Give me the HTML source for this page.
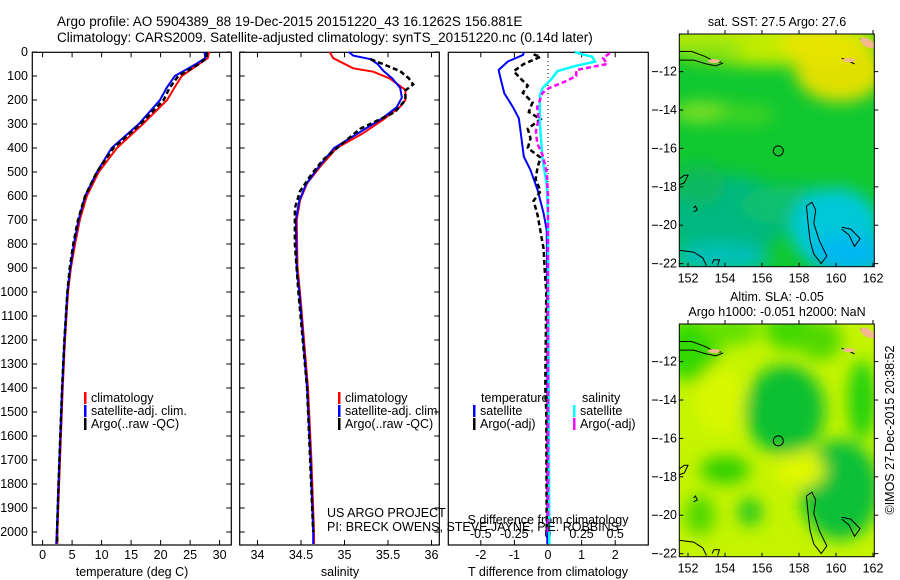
<!DOCTYPE html>
<html><head><meta charset="utf-8"><style>
body{margin:0;background:#fff}
svg{display:block;font-family:"Liberation Sans",sans-serif}
text{font-size:12.5px;fill:#000}
</style></head><body>
<svg id="s" width="900" height="580" viewBox="0 0 900 580">
<rect width="900" height="580" fill="#fff"/>
<text x="57" y="26" style="font-size:13.5px">Argo profile: AO 5904389_88 19-Dec-2015 20151220_43 16.1262S 156.881E</text>
<text x="57" y="42" style="font-size:13.5px">Climatology: CARS2009. Satellite-adjusted climatology: synTS_20151220.nc (0.14d later)</text>
<g id="g"></g>
</svg>
<script>
// ---- data ----
const tDepth=[0,25,50,100,150,200,300,400,500,600,700,800,900,1000,1200,1400,1600,1800,2000,2050];
const tClim=[28.2,28.0,26.5,23.6,22.3,21.1,17.0,12.6,9.5,7.5,6.3,5.5,4.8,4.3,3.8,3.4,3.1,2.8,2.5,2.5];
const tSat=[27.4,27.6,26.0,22.4,21.0,19.9,16.3,11.7,9.2,7.2,6.1,5.3,4.7,4.2,3.7,3.3,3.0,2.7,2.4,2.3];
const tArgo=[27.8,27.8,26.5,23.0,21.5,20.5,16.6,12.0,9.2,7.2,6.0,5.2,4.6,4.2,3.7,3.3,3.0,2.7,2.45,2.45];
const sClimDepth=[0,26,68,82,110,158,200,228,283,339,400,478,547,617,700,895,1005,1400,1700,2000,2050];
const sClim=[34.83,34.87,35.10,35.33,35.52,35.70,35.70,35.64,35.44,35.21,34.91,34.72,34.57,34.49,34.45,34.46,34.49,34.58,34.62,34.65,34.65];
const sSatDepth=[0,15,30,50,80,110,150,190,230,280,340,400,480,550,620,700,900,1000,1400,1700,2000,2050];
const sSat=[35.05,35.1,35.3,35.38,35.45,35.55,35.64,35.66,35.6,35.42,35.15,34.88,34.70,34.56,34.48,34.44,34.45,34.48,34.57,34.61,34.64,34.64];
const sArgoDepth=[30,50,80,110,135,160,200,250,280,320,380,450,520,580,650,800,1000,1400,2000];
const sArgo=[35.3,35.44,35.64,35.74,35.79,35.70,35.70,35.58,35.41,35.18,34.98,34.75,34.60,34.49,34.43,34.43,34.47,34.57,34.64];
const dtSatDepth=[0,12,40,75,117,172,228,276,325,436,492,575,672,742,880,1200,2050];
const dtSat=[-0.72,-0.74,-1.2,-1.47,-1.4,-1.3,-1.05,-0.87,-0.82,-0.72,-0.52,-0.31,-0.13,-0.04,-0.03,-0.02,-0.02];
const dtArgoDepth=[10,20,50,80,110,140,170,210,250,280,320,360,400,440,480,530,580,620,680,750,820,900,1000,1400,1500,2000];
const dtArgo=[-0.43,-0.22,-0.72,-1.02,-0.82,-0.6,-0.75,-0.46,-0.57,-0.22,-0.6,-0.52,-0.6,-0.22,-0.31,-0.37,-0.22,-0.43,-0.31,-0.22,-0.13,-0.1,-0.05,-0.08,-0.05,-0.04];
const dsSatDepth=[0,10,20,40,60,80,110,150,180,300,450,550,700,2050];
const dsSat=[0.2,0.26,0.33,0.35,0.19,0.07,0.03,-0.04,-0.06,-0.06,-0.04,-0.01,0.0,0.01];
const dsArgoDepth=[5,25,50,75,100,120,150,170,230,280,330,380,430,500,600,2000];
const dsArgo=[0.46,0.41,0.44,0.21,0.21,0.14,0.01,-0.04,-0.08,-0.07,-0.09,-0.08,-0.04,-0.01,0.0,0.0];
const depthTicks=[0,100,200,300,400,500,600,700,800,900,1000,1100,1200,1300,1400,1500,1600,1700,1800,1900,2000];
const tTicks=[0,5,10,15,20,25,30];
const sTicks=[34,34.5,35,35.5,36];
const dtTicks=[-2,-1,0,1,2];
const dsTicks=[-0.5,-0.25,0,0.25,0.5];
const latTicks=[-12,-14,-16,-18,-20,-22];
const lonTicks=[152,154,156,158,160,162];

// ---- scales ----
const Y=d=>52+d*0.24;
const XT=t=>42.6+t*5.9;
const XS=s=>257.5+(s-34)*87;
const XDT=v=>548+v*33.6;
const XDS=v=>548+v*134.4;
const NS='http://www.w3.org/2000/svg';
const G=document.getElementById('g');
function mk(tag,at,parent){const e=document.createElementNS(NS,tag);for(const k in at)e.setAttribute(k,at[k]);(parent||G).appendChild(e);return e;}
function txt(x,y,s,anchor,size){const e=mk('text',{x:x,y:y,'text-anchor':anchor||'start'});if(size)e.style.fontSize=size+'px';e.textContent=s;return e;}
function line(xs,ds,fx,color,w,dash,name){
  const p=xs.map((v,i)=>fx(v).toFixed(1)+','+Y(ds[i]).toFixed(1)).join(' ');
  const e=mk('polyline',{points:p,fill:'none',stroke:color,'stroke-width':w});
  if(dash)e.setAttribute('stroke-dasharray',dash);
  
  
}
const B=545;
const panels=[[32.3,231.3,'temperature-panel'],[239.7,439.3,'salinity-panel'],[448.3,648.3,'difference-panel']];
panels.forEach(p=>{const r=mk('rect',{x:p[0],y:52.3,width:p[1]-p[0],height:B-52.3,fill:'none',stroke:'#000','stroke-width':1.2});

});
depthTicks.forEach(d=>{
  const t=txt(28,Y(d)+4,String(d),'end');
  
  
  [[32.3,37],[231.3,226.3],[239.7,244.7],[439.3,434.3]].forEach(a=>mk('line',{x1:a[0],x2:a[1],y1:Y(d),y2:Y(d),stroke:'#000'}));
});
function xticks(ticks,fx,l,r){ticks.forEach(v=>{const x=fx(v);if(x<l||x>r)return;mk('line',{x1:x,x2:x,y1:B,y2:B-5,stroke:'#000'});mk('line',{x1:x,x2:x,y1:52.3,y2:57.3,stroke:'#000'});
 const t=txt(x,559,String(v),'middle');
 
 });}
xticks(tTicks,XT,32,232);xticks(sTicks,XS,239,440);xticks(dtTicks,XDT,448,649);
dsTicks.forEach(v=>{const t=txt(XDS(v),538,String(v),'middle');
 
 });
[['temperature (deg C)',132,'temperature-axis-title'],['salinity',340,'salinity-axis-title'],['T difference from climatology',548,'t-diff-axis-title']].forEach(a=>{const t=txt(a[1],576,a[0],'middle');
 
 });
let st=txt(548,524,'S difference from climatology','middle');


mk('line',{x1:548,x2:548,y1:53,y2:B,stroke:'#000','stroke-dasharray':'1,3'});
line(tClim,tDepth,XT,'#f00',2,null,'temp-climatology-line');
line(tSat,tDepth,XT,'#00f',2,null,'temp-satellite-line');
line(tArgo,tDepth,XT,'#000',2.5,'5,3','temp-argo-line');
line(sClim,sClimDepth,XS,'#f00',2,null,'sal-climatology-line');
line(sSat,sSatDepth,XS,'#00f',2,null,'sal-satellite-line');
line(sArgo,sArgoDepth,XS,'#000',2.5,'5,3','sal-argo-line');
line(dtSat,dtSatDepth,XDT,'#00f',2,null,'tdiff-satellite-line');
line(dtArgo,dtArgoDepth,XDT,'#000',2.5,'5,3','tdiff-argo-line');
line(dsSat,dsSatDepth,XDS,'#0ff',2.5,null,'sdiff-satellite-line');
line(dsArgo,dsArgoDepth,XDS,'#f0f',2.5,'5,3','sdiff-argo-line');
function leg(x,y,c,s,name){mk('rect',{x:x,y:y-10,width:2.5,height:12,fill:c});const t=txt(x+7,y,s);
 
 }
leg(84,402,'#f00','climatology','legend-climatology');leg(84,415,'#00f','satellite-adj. clim.','legend-satellite');leg(84,428,'#000','Argo(..raw -QC)','legend-argo');
leg(338,402,'#f00','climatology','legend-climatology-2');leg(338,415,'#00f','satellite-adj. clim.','legend-satellite-2');leg(338,428,'#000','Argo(..raw -QC)','legend-argo-2');
txt(481,402,'temperature');txt(582,402,'salinity');
leg(473,415,'#00f','satellite','legend-t-satellite');leg(473,428,'#000','Argo(-adj)','legend-t-argo');
leg(573,415,'#0ff','satellite','legend-s-satellite');leg(573,428,'#f0f','Argo(-adj)','legend-s-argo');
txt(327,517,'US ARGO PROJECT');txt(327,531,'PI: BRECK OWENS, STEVE JAYNE, P.E. ROBBINS');

// ---- maps ----
const mL=679.3,mR=874.3;
const LX=lon=>688+(lon-152)*18.5;
function addMap(top,bot,kind){
  const LY=lat=>top+(-10.04-lat)*19.2;
  const oy=top-34;
  const grp=mk('g',{});
  
  
  const id='c'+kind;
  const cp=mk('clipPath',{id:id},grp);mk('rect',{x:mL,y:top,width:mR-mL,height:bot-top},cp);
  const inner=mk('g',{'clip-path':'url(#'+id+')'},grp);
  const f=mk('filter',{id:'b'+kind,x:'-50%',y:'-50%',width:'200%',height:'200%'},grp);mk('feGaussianBlur',{stdDeviation:kind=='sst'?8:8},f);
  mk('rect',{x:mL,y:top,width:mR-mL,height:bot-top,fill:kind=='sst'?'#10c830':'#c4f400'},inner);
  const blobs=mk('g',{filter:'url(#b'+kind+')'},inner);
  let list;
  if(kind=='sst'){
    list=[[770,40,110,26,'#c0ec00'],[840,70,45,32,'#e0e000'],[820,45,40,16,'#e8e400'],[710,50,35,12,'#90e410'],[705,112,35,10,'#80e020'],[745,115,30,10,'#40d420'],
     [725,215,65,40,'#00b880'],[790,205,50,20,'#10c070'],[835,228,45,40,'#00c8d8'],[850,255,40,20,'#00b8f0'],[720,258,50,15,'#00c0b8'],[700,185,25,20,'#10b860']];
  }else{
    list=[[692,60,28,32,'#30d800'],[730,40,30,15,'#60e000'],[790,40,25,20,'#40d800'],[785,120,40,45,'#10c030'],[862,110,14,40,'#20d010'],[725,180,25,14,'#30d000'],
     [840,200,40,50,'#10c038'],[750,222,12,14,'#20c820'],[700,225,15,20,'#50d800'],[820,50,22,20,'#50d800'],[720,110,25,35,'#d8f800'],[800,180,25,18,'#e0f800']];
  }
  list.forEach(b=>mk('ellipse',{cx:b[0],cy:b[1]+oy,rx:b[2],ry:b[3],fill:b[4]},blobs));
  const coast=[[[151.5,-10.95],[152.2,-10.95],[152.9,-11.2],[153.5,-11.5],[153.8,-11.5]],[[151.5,-11.4],[152.3,-11.4],[153.0,-11.6],[153.5,-11.7],[153.9,-11.55]],
   [[160.3,-11.3],[160.8,-11.5],[161.0,-11.6]],[[161.3,-10.3],[161.8,-10.6],[162.1,-10.7],[162.1,-10.3]],
   [[151.5,-17.6],[151.8,-17.4],[152.0,-17.4],[151.8,-17.8],[151.5,-17.9]],[[151.5,-21.3],[152.3,-21.4],[152.8,-21.7],[153.0,-22.1]],
   [[158.4,-19.0],[158.7,-18.8],[158.9,-19.2],[158.8,-19.9],[159.1,-20.8],[159.5,-21.6],[159.2,-22.0],[158.8,-21.5],[158.6,-20.8],[158.5,-20.0],[158.4,-19.0]],
   [[160.3,-20.1],[160.8,-20.2],[161.3,-20.7],[161.0,-21.1],[160.7,-20.5],[160.3,-20.2]],
   [[153.3,-22.0],[153.4,-21.8],[153.7,-21.8],[153.6,-22.1]],[[152.3,-19.1],[152.4,-19.0],[152.5,-19.2],[152.3,-19.3]]];
  coast.forEach(c=>mk('polyline',{points:c.map(p=>LX(p[0]).toFixed(1)+','+LY(p[1]).toFixed(1)).join(' '),fill:'none',stroke:'#000','stroke-width':1},inner));
  mk('ellipse',{cx:LX(161.7),cy:LY(-10.5),rx:8,ry:4,fill:'#f4b890',transform:'rotate(30 '+LX(161.7)+' '+LY(-10.5)+')'},inner);
  mk('ellipse',{cx:LX(153.4),cy:LY(-11.45),rx:6,ry:2,fill:'#f4b890'},inner);
  mk('ellipse',{cx:LX(160.7),cy:LY(-11.4),rx:6,ry:2,fill:'#f4b890'},inner);
  const ring=mk('circle',{cx:LX(156.881),cy:LY(-16.126),r:5,fill:'none',stroke:'#000','stroke-width':1},inner);
  
  
  mk('rect',{x:mL,y:top,width:mR-mL,height:bot-top,fill:'none',stroke:'#000','stroke-width':1},grp);
  latTicks.forEach(l=>{const y=LY(l);mk('line',{x1:mL,x2:mL+4,y1:y,y2:y,stroke:'#000'},grp);mk('line',{x1:mR,x2:mR+4,y1:y,y2:y,stroke:'#000'},grp);
   mk('line',{x1:652,x2:658,y1:y,y2:y,stroke:'#000'},grp);
   const t=txt(677,y+4,'-'+Math.abs(l),'end');
   
   });
  lonTicks.forEach(l=>{const x=LX(l);mk('line',{x1:x,x2:x,y1:bot,y2:bot-4,stroke:'#000'},grp);mk('line',{x1:x,x2:x,y1:top,y2:top-4,stroke:'#000'},grp);
   const t=txt(x,bot+16,String(l),'middle');
   
   });
}
addMap(34,266.7,'sst');
addMap(324,556.7,'sla');
txt(777,26,'sat. SST: 27.5 Argo: 27.6','middle');
txt(777,301,'Altim. SLA: -0.05','middle');
txt(777,316,'Argo h1000: -0.051 h2000: NaN','middle');
const cr=txt(0,0,'©IMOS 27-Dec-2015 20:38:52','middle');
cr.setAttribute('transform','translate(894,430) rotate(-90)');


</script>
</body></html>
